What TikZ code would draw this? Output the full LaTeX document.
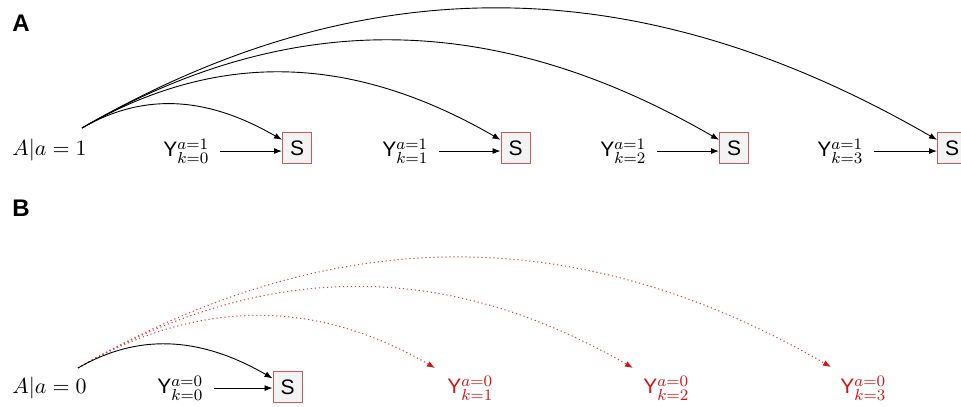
\documentclass[tikz,border=0pt]{standalone}
\usepackage{fontspec}
\setsansfont{Liberation Sans}
\DeclareMathSizes{10.5}{10.5}{8}{6}
\usetikzlibrary{arrows.meta}
\definecolor{boxred}{RGB}{205,90,90}
\definecolor{boxfill}{RGB}{243,243,243}
\definecolor{ared}{RGB}{212,20,20}
\definecolor{dotred}{RGB}{215,60,60}
\tikzset{
  lbl/.style={font=\fontsize{10.5}{12}\selectfont, inner sep=0pt, anchor=base west},
  panel/.style={font=\fontsize{12}{14}\selectfont\sffamily\bfseries, inner sep=0pt},
  sbox/.style={draw=boxred, fill=boxfill, line width=0.5pt, minimum width=14.5pt, minimum height=15.5pt, inner sep=0pt, font=\fontsize{10.5}{12}\selectfont\sffamily},
  arr/.style={line width=0.45pt, -{Latex[length=4pt,width=3pt]}},
  redarr/.style={dotred, line width=0.5pt, dash pattern=on 0.6pt off 1.4pt, -{Latex[length=4pt,width=3pt,color=ared]}},
  yred/.style={lbl, text=ared},
}
\begin{document}
\begin{tikzpicture}[x=0.5pt,y=0.5pt]
\useasboundingbox (0,0) rectangle (961,406);
% Panel A
\node[panel] (pA) at (21,382.5) {A};
\node[lbl] (a1) at (12,250) {$A|a=1$};
\coordinate (pa) at (82,278);
\node[sbox] (s1) at (297,257.5) {S};
\node[sbox] (s2) at (515.5,257.5) {S};
\node[sbox] (s3) at (734,257.5) {S};
\node[sbox] (s4) at (952,257.5) {S};
\node[lbl] (y1) at (163,249) {\textsf{Y}$^{a=1}_{k=0}$};
\node[lbl] (y2) at (382,249) {\textsf{Y}$^{a=1}_{k=1}$};
\node[lbl] (y3) at (600,249) {\textsf{Y}$^{a=1}_{k=2}$};
\node[lbl] (y4) at (817,249) {\textsf{Y}$^{a=1}_{k=3}$};
\draw[arr, shorten <=5pt] (y1.east) -- (y1.east -| s1.west);
\draw[arr, shorten <=5pt] (y2.east) -- (y2.east -| s2.west);
\draw[arr, shorten <=5pt] (y3.east) -- (y3.east -| s3.west);
\draw[arr, shorten <=5pt] (y4.east) -- (y4.east -| s4.west);
\draw[arr] (pa) to[out=30,in=150] (s1);
\draw[arr] (pa) to[out=30,in=150] (s2);
\draw[arr] (pa) to[out=30,in=150] (s3);
\draw[arr] (pa) to[out=30,in=150] (s4);
% Panel B
\node[panel] (pB) at (21,198) {B};
\node[lbl] (a0) at (12,12) {$A|a=0$};
\coordinate (pb) at (78,38);
\node[sbox] (s0) at (287.5,19) {S};
\node[lbl] (z0) at (157,12) {\textsf{Y}$^{a=0}_{k=0}$};
\node[yred] (z1) at (447,12) {\textsf{Y}$^{a=0}_{k=1}$};
\node[yred] (z2) at (643,12) {\textsf{Y}$^{a=0}_{k=2}$};
\node[yred] (z3) at (840,12) {\textsf{Y}$^{a=0}_{k=3}$};
\coordinate (t1) at (435,38);
\coordinate (t2) at (633,38);
\coordinate (t3) at (831,39);
\draw[arr, shorten <=5pt] (z0.east) -- (z0.east -| s0.west);
\draw[redarr] (pb) to[out=30,in=150] (t1);
\draw[redarr] (pb) to[out=30,in=150] (t2);
\draw[redarr] (pb) to[out=30,in=150] (t3);
\draw[arr] (pb) to[out=30,in=150] (s0);
\end{tikzpicture}
\end{document}
